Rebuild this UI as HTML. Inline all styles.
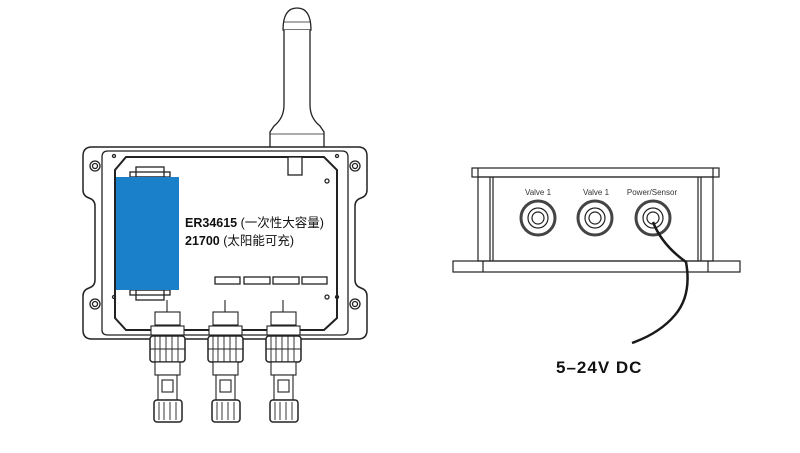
<!DOCTYPE html>
<html><head><meta charset="utf-8"><style>
html,body{margin:0;padding:0;background:#fff;}
svg{display:block;}
text{font-family:"Liberation Sans","Noto Sans CJK SC",sans-serif;}
</style></head><body>
<svg width="800" height="453" viewBox="0 0 800 453" xmlns="http://www.w3.org/2000/svg">
<g fill="none" stroke="#222" stroke-width="1.3">
<!-- antenna -->
<path d="M283,30 Q283,8 297,8 Q311,8 311,30 Z" fill="#fff"/>
<line x1="283" y1="22" x2="311" y2="22" stroke-width="0.8"/>
<path d="M284,30 L284,105 Q284,118 274,126 L270,132 L270,150 L324,150 L324,132 L320,126 Q310,118 310,105 L310,30" fill="#fff"/>
<line x1="270" y1="134" x2="324" y2="134" stroke-width="0.8"/>
<!-- outer enclosure with ears -->
<path d="M92,147 L358,147 Q367,147 367,156 L367,190 Q367,196 361,198 Q355,200 355,206 L355,280 Q355,286 361,288 Q367,290 367,296 L367,330 Q367,339 358,339 L92,339 Q83,339 83,330 L83,296 Q83,290 89,288 Q95,286 95,280 L95,206 Q95,200 89,198 Q83,196 83,190 L83,156 Q83,147 92,147 Z" fill="#fff" stroke-width="1.5"/>
<path d="M108,151 L342,151 Q348,151 348,157 L348,330 Q348,335 342,335 L108,335 Q102,335 102,330 L102,157 Q102,151 108,151 Z" stroke-width="1.3"/>
<path d="M126,157 L324,157 L337,170 L337,318 L324,330 L126,330 L115,318 L115,170 Z" stroke-width="2"/>
<circle cx="95" cy="166" r="5"/><circle cx="95" cy="166" r="2.5"/>
<circle cx="95" cy="304" r="5"/><circle cx="95" cy="304" r="2.5"/>
<circle cx="355" cy="166" r="5"/><circle cx="355" cy="166" r="2.5"/>
<circle cx="355" cy="304" r="5"/><circle cx="355" cy="304" r="2.5"/>
<circle cx="114" cy="156" r="1.5"/><circle cx="337" cy="156" r="1.5"/>
<circle cx="114" cy="297" r="1.5"/><circle cx="337" cy="297" r="1.5"/>
<circle cx="327" cy="181" r="2"/><circle cx="327" cy="297" r="2"/>
<rect x="288" y="157" width="14" height="18" fill="#fff"/>
<!-- battery clips -->
<rect x="136" y="167" width="28" height="10" fill="#fff"/>
<rect x="136" y="290" width="28" height="10" fill="#fff"/>
<rect x="130" y="172" width="40" height="5"/>
<rect x="130" y="290" width="40" height="5"/>
<!-- small rects -->
<rect x="215" y="277" width="25" height="7"/><rect x="244" y="277" width="26" height="7"/>
<rect x="273" y="277" width="26" height="7"/><rect x="302" y="277" width="25" height="7"/>
</g>
<rect x="116" y="177" width="63" height="113" fill="#1a80c9"/>
<text x="185" y="227" font-size="12.5" fill="#111"><tspan font-weight="bold">ER34615</tspan> (一次性大容量)</text>
<text x="185" y="245" font-size="12.5" fill="#111"><tspan font-weight="bold">21700</tspan> (太阳能可充)</text>
<!-- connectors -->
<g fill="#fff" stroke="#222" stroke-width="1.1" id="c">
<line x1="167" y1="300" x2="167" y2="312"/>
<rect x="155" y="312" width="25" height="13"/>
<rect x="151" y="326" width="33" height="9"/>
<rect x="150" y="336" width="35" height="26" rx="3" stroke-width="1.5"/>
<path d="M155,336V362M160,336V362M166,336V362M172,336V362M178,336V362M150,349H185" stroke-width="0.9"/>
<rect x="155" y="362" width="25" height="13"/>
<rect x="158" y="375" width="19" height="25"/>
<rect x="162" y="380" width="11" height="12"/>
<rect x="154" y="400" width="28" height="22" rx="3" stroke-width="1.5"/>
<path d="M159,402V420M164,402V420M170,402V420M176,402V420" stroke-width="0.9"/>
</g>
<use href="#c" x="58"/>
<use href="#c" x="116"/>
<!-- right side box -->
<g fill="none" stroke="#222" stroke-width="1.2">
<rect x="472" y="168" width="247" height="9"/>
<line x1="478" y1="168" x2="478" y2="177"/><line x1="713" y1="168" x2="713" y2="177"/>
<rect x="478" y="177" width="235" height="84"/>
<line x1="490" y1="177" x2="490" y2="261"/><line x1="493" y1="177" x2="493" y2="261"/>
<line x1="698" y1="177" x2="698" y2="261"/><line x1="701" y1="177" x2="701" y2="261"/>
<rect x="453" y="261" width="287" height="11"/>
<line x1="483" y1="261" x2="483" y2="272"/><line x1="708" y1="261" x2="708" y2="272"/>
<circle cx="538" cy="218" r="17" stroke-width="3" stroke="#444"/>
<circle cx="538" cy="218" r="10"/><circle cx="538" cy="218" r="6"/>
<circle cx="595" cy="218" r="17" stroke-width="3" stroke="#444"/>
<circle cx="595" cy="218" r="10"/><circle cx="595" cy="218" r="6"/>
<circle cx="653" cy="218" r="17" stroke-width="3" stroke="#444"/>
<circle cx="653" cy="218" r="10"/><circle cx="653" cy="218" r="6"/>
</g>
<text x="538" y="195" font-size="8" fill="#333" text-anchor="middle">Valve 1</text>
<text x="596" y="195" font-size="8" fill="#333" text-anchor="middle">Valve 1</text>
<text x="652" y="195" font-size="8" fill="#333" text-anchor="middle">Power/Sensor</text>
<path d="M653,222 Q662,245 686,262 Q692,295 675,315 Q660,333 632,343" fill="none" stroke="#1a1a1a" stroke-width="2.5"/>
<text x="556" y="373" font-size="17" font-weight="bold" fill="#111" letter-spacing="1">5–24V DC</text>
</svg>
</body></html>
